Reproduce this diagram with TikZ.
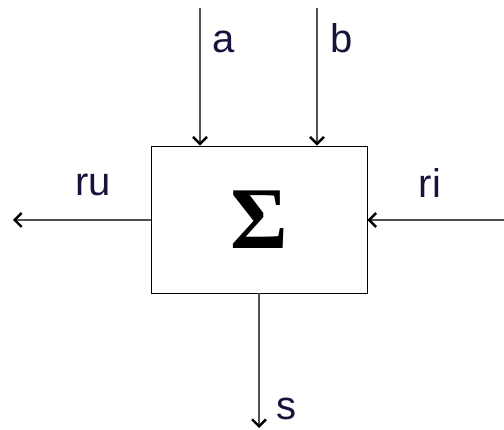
\documentclass[tikz,border=0pt]{standalone}
\usepackage{fontspec}
\setmainfont{Liberation Sans}
\newfontfamily\sigmafont{Liberation Serif}
\usetikzlibrary{arrows.meta}
\definecolor{lbl}{RGB}{20,20,60}
\definecolor{ln}{RGB}{80,80,80}
\begin{document}
\begin{tikzpicture}[x=1pt,y=1pt,
  conn/.style={draw=ln, line width=1.1pt, -{Straight Barb[length=7pt,width=14pt,line width=2.4pt,color=black]}},
  lab/.style={text=lbl, font=\fontsize{40}{40}\selectfont, inner sep=0pt}]
\useasboundingbox (0,0) rectangle (504,-430);
\node[draw=black, line width=0.9pt, minimum width=216pt, minimum height=147pt, inner sep=0pt,
  font=\fontsize{88}{88}\sigmafont\bfseries] (box) at (259,-219.5) {Σ};
\coordinate (atop) at (200,-8);
\coordinate (btop) at (317,-8);
\coordinate (ruend) at (13,-220);
\coordinate (ristart) at (504,-220);
\coordinate (send) at (259,-428);
\draw[conn] (atop) -- (atop |- box.north);
\draw[conn] (btop) -- (btop |- box.north);
\draw[conn] (ruend -| box.west) -- (ruend);
\draw[conn] (ristart) -- (ristart -| box.east);
\draw[conn] (box.south) -- (send);
\node[lab] (la) at (224,-42) {a};
\node[lab] (lb) at (342,-38) {b};
\node[lab] (lru) at (93,-185) {ru};
\node[lab] (lri) at (430,-183) {ri};
\node[lab] (ls) at (286,-409) {s};
\end{tikzpicture}
\end{document}
